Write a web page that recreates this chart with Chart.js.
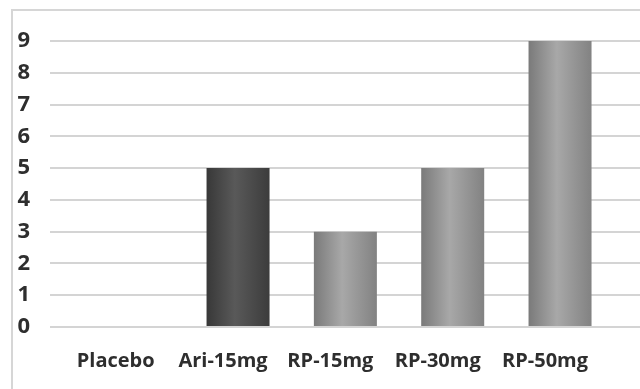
<!DOCTYPE html>
<html>
<head>
<meta charset="utf-8">
<script src="https://cdn.jsdelivr.net/npm/chart.js@4.4.1/dist/chart.umd.min.js"></script>
<style>
  html, body { margin: 0; padding: 0; background: #ffffff; }
  #wrap { width: 640px; height: 389px; position: relative; }
</style>
</head>
<body>
<div id="wrap"><canvas id="chart" width="640" height="389"></canvas></div>
<script>
// Treatment groups and their counts
const categories = ['Placebo', 'Ari-15mg', 'RP-15mg', 'RP-30mg', 'RP-50mg'];
const counts = [0, 5, 3, 5, 9];
const yTicks = [0, 1, 2, 3, 4, 5, 6, 7, 8, 9];

// Bar shading: [left edge, centre, right edge] per group
const shades = [
  ['#7a7a7a', '#a8a8a8', '#828282'],
  ['#383838', '#595959', '#3c3c3c'],
  ['#7a7a7a', '#a8a8a8', '#828282'],
  ['#7a7a7a', '#a8a8a8', '#828282'],
  ['#7a7a7a', '#a8a8a8', '#828282']
];

const BAR_W = 63;

function barFill(ctx) {
  const chart = ctx.chart;
  const xs = chart.scales && chart.scales.x;
  const s = shades[ctx.dataIndex] || shades[0];
  if (!chart.chartArea || !xs) return s[1];
  const cx = xs.getPixelForValue(ctx.dataIndex);
  const g = chart.ctx.createLinearGradient(cx - BAR_W / 2, 0, cx + BAR_W / 2, 0);
  g.addColorStop(0, s[0]);
  g.addColorStop(0.45, s[1]);
  g.addColorStop(1, s[2]);
  return g;
}

// Light frame around the figure
const framePlugin = {
  id: 'frame',
  beforeDraw(chart) {
    const c = chart.ctx;
    c.save();
    c.fillStyle = '#ffffff';
    c.fillRect(0, 0, chart.width, chart.height);
    c.strokeStyle = '#d6d6d6';
    c.lineWidth = 2;
    c.beginPath();
    c.moveTo(12, chart.height);
    c.lineTo(12, 10);
    c.lineTo(chart.width, 10);
    c.stroke();
    c.restore();
  }
};

new Chart(document.getElementById('chart'), {
  type: 'bar',
  data: {
    datasets: [{
      data: categories.map((c, i) => ({ x: i, y: counts[i] })),
      backgroundColor: barFill,
      borderWidth: 0,
      inflateAmount: 0,
      barThickness: BAR_W
    }]
  },
  options: {
    responsive: false,
    animation: false,
    devicePixelRatio: 1,
    layout: { padding: { top: 41, right: 0, bottom: 0, left: 0 } },
    plugins: { legend: { display: false }, tooltip: { enabled: false } },
    scales: {
      x: {
        type: 'linear',
        min: -0.752,
        max: 4.745,
        offset: false,
        grid: { display: false },
        border: { display: false },
        afterBuildTicks(scale) { scale.ticks = categories.map((c, i) => ({ value: i })); },
        afterFit(scale) { scale.height = 62; },
        ticks: {
          autoSkip: false,
          maxRotation: 0,
          padding: 14,
          labelOffset: -15,
          color: '#2e2e2e',
          font: { family: 'Open Sans', weight: 'bold', size: 20 },
          callback: (v) => categories[v]
        }
      },
      y: {
        min: yTicks[0],
        max: yTicks[yTicks.length - 1],
        afterBuildTicks(scale) { scale.ticks = yTicks.map(v => ({ value: v })); },
        afterFit(scale) { scale.width = 50; },
        grid: { color: '#d4d4d4', lineWidth: 2, drawTicks: false },
        border: { display: false },
        ticks: {
          padding: 20,
          color: '#2e2e2e',
          font: { family: 'Open Sans', weight: 'bold', size: 22 }
        }
      }
    }
  },
  plugins: [framePlugin]
});
</script>
</body>
</html>
